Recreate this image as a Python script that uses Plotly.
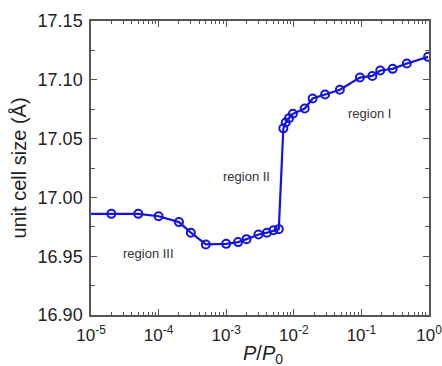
import math
import plotly.graph_objects as go

# data
p_line = [1e-5]
v_line = [16.986]
p_pts = [2e-5, 5e-5, 1e-4, 2e-4, 3e-4, 5e-4, 1e-3, 1.5e-3, 2e-3, 3e-3, 4e-3, 5e-3, 6e-3,
         7e-3, 7.6e-3, 8.5e-3, 9.7e-3, 1.45e-2, 1.9e-2, 2.9e-2, 4.8e-2, 0.095, 0.145, 0.19, 0.29, 0.47, 0.97]
v_pts = [16.986, 16.986, 16.984, 16.979, 16.970, 16.960, 16.9605, 16.962, 16.9645, 16.9685, 16.970, 16.972, 16.973,
         17.0587, 17.0637, 17.0674, 17.0711, 17.0756, 17.0841, 17.0875, 17.0915, 17.1019, 17.1033, 17.1079, 17.1093, 17.1138, 17.1195]
xtick_vals = [1e-5, 1e-4, 1e-3, 1e-2, 1e-1, 1]
xtick_text = ["10<sup>-5</sup>", "10<sup>-4</sup>", "10<sup>-3</sup>", "10<sup>-2</sup>", "10<sup>-1</sup>", "10<sup>0</sup>"]
ytick_vals = [16.90, 16.95, 17.00, 17.05, 17.10, 17.15]
ytick_text = ["16.90", "16.95", "17.00", "17.05", "17.10", "17.15"]
regions = [("region III", 7e-5, 16.952), ("region II", 2.0e-3, 17.018), ("region I", 0.134, 17.071)]

xminor = [m * d for d in xtick_vals[:-1] for m in range(2, 10)]

blue = "#1414e0"
fnt = "Liberation Sans, Arial"
fig = go.Figure()
fig.add_trace(go.Scatter(x=p_line + p_pts, y=v_line + v_pts, mode="lines",
                         line=dict(color=blue, width=2.2), showlegend=False))
fig.add_trace(go.Scatter(x=p_pts, y=v_pts, mode="markers",
                         marker=dict(symbol="circle-open", size=8, color=blue, line=dict(width=2, color=blue)),
                         showlegend=False))
for t, x, y in regions:
    fig.add_annotation(x=math.log10(x), y=y, xref="x", yref="y", text=t, showarrow=False,
                       font=dict(family=fnt, size=13, color="#333"))
fig.add_annotation(x=0.51, y=0, xref="paper", yref="paper", yanchor="top", yshift=-25,
                   text="<i>P</i>/<i>P</i><sub>0</sub>", showarrow=False,
                   font=dict(family=fnt, size=20, color="#222"))

axcol = "#555"
fig.update_xaxes(type="log", range=[-5, 0], tickvals=xtick_vals, ticktext=xtick_text,
                 showline=True, linecolor=axcol, linewidth=1.5, mirror="allticks",
                 ticks="inside", ticklen=6, tickcolor=axcol, tickwidth=1.2,
                 minor=dict(ticks="inside", ticklen=3, tickcolor=axcol, tickwidth=1,
                            tickmode="array", tickvals=xminor),
                 showgrid=False, zeroline=False, ticklabelstandoff=4, automargin=False,
                 ticklabeloverflow="allow",
                 tickfont=dict(family=fnt, size=17, color="#222"))
fig.update_yaxes(range=[16.90, 17.15], tickvals=ytick_vals, ticktext=ytick_text,
                 showline=True, linecolor=axcol, linewidth=1.5, mirror="allticks",
                 ticks="inside", ticklen=6, tickcolor=axcol, tickwidth=1.2,
                 minor=dict(ticks="inside", ticklen=4, tickcolor=axcol, tickwidth=1, dtick=0.025),
                 showgrid=False, zeroline=False, ticklabelstandoff=3, automargin=False,
                 ticklabeloverflow="allow",
                 tickfont=dict(family=fnt, size=18, color="#222"),
                 title=dict(text="unit cell size (Å)", standoff=6,
                            font=dict(family=fnt, size=20, color="#222")))
fig.update_layout(width=442, height=366, margin=dict(l=91, r=13, t=21, b=51),
                  plot_bgcolor="white", paper_bgcolor="white")
fig.write_html("out.html")
